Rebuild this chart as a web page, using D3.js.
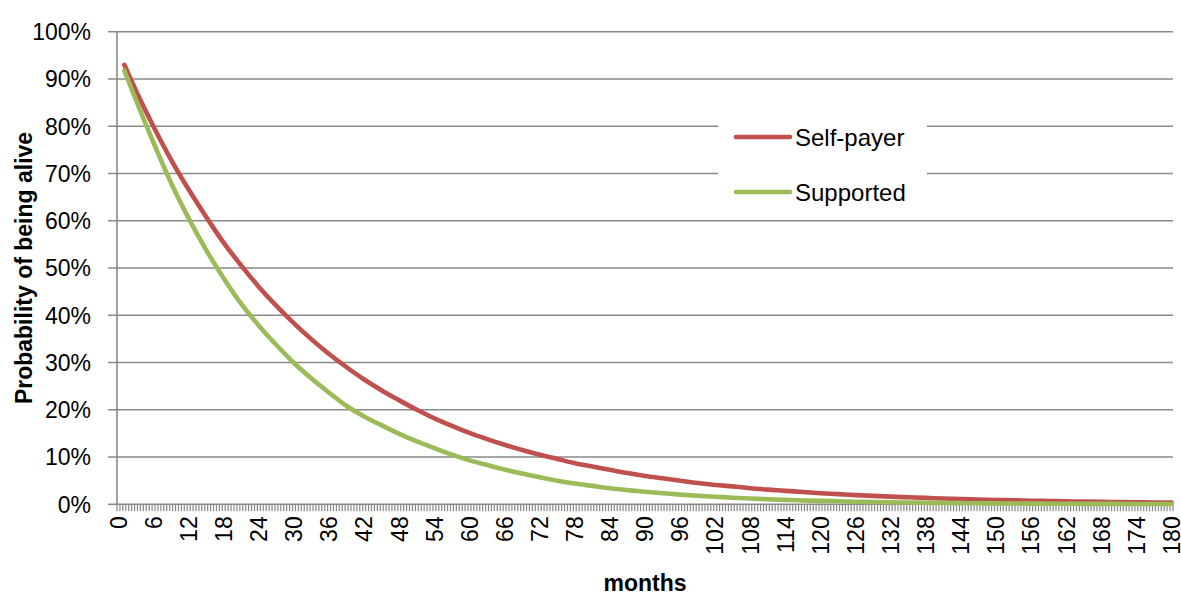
<!DOCTYPE html>
<html><head><meta charset="utf-8">
<script src="https://cdn.jsdelivr.net/npm/d3@7"></script>
<style>
html,body{margin:0;padding:0;background:#fff;}
svg text{font-family:"Liberation Sans Narrow","Arial Narrow","Liberation Sans",Arial,sans-serif;fill:#000;}
</style>
</head><body>
<svg id="chart" width="1181" height="597"></svg>
<script>
// Data
const months = [1,3,6,9,12,15,18,21,24,27,30,33,36,39,42,45,48,51,54,57,60,63,66,69,72,75,78,81,84,87,90,93,96,99,102,105,108,111,114,117,120,123,126,129,132,135,138,141,144,147,150,153,156,159,162,165,168,171,174,177,180];
const selfPayer = [93.0,87.5,79.9,72.9,66.6,60.8,55.3,50.5,46.0,42.0,38.3,34.9,31.8,29.0,26.4,24.1,22.0,20.0,18.2,16.6,15.1,13.8,12.6,11.5,10.5,9.6,8.7,8.0,7.3,6.6,6.0,5.5,5.0,4.5,4.1,3.8,3.4,3.1,2.85,2.6,2.35,2.15,1.95,1.78,1.62,1.48,1.35,1.22,1.11,1.01,0.92,0.84,0.76,0.69,0.63,0.57,0.52,0.47,0.43,0.39,0.35];
const supported = [91.8,85.5,76.5,68.0,60.5,53.8,47.8,42.4,37.8,33.7,29.9,26.6,23.6,20.8,18.6,16.7,14.9,13.3,11.9,10.5,9.3,8.3,7.35,6.5,5.7,5.0,4.4,3.9,3.4,3.0,2.65,2.35,2.05,1.8,1.6,1.4,1.22,1.07,0.94,0.82,0.72,0.63,0.55,0.48,0.42,0.37,0.32,0.28,0.25,0.22,0.19,0.17,0.15,0.13,0.11,0.10,0.09,0.08,0.07,0.06,0.05];
const categories = d3.range(0, 180.5, 0.5);          // half-month categories
const xTickLabels = d3.range(0, 181, 6);              // 0,6,...,180
const yTicks = [0,10,20,30,40,50,60,70,80,90,100];
const seriesNames = ["Self-payer","Supported"];
const seriesColors = ["#c0504d","#9bbb59"];

const svg = d3.select("#chart");
const L = 117, R = 1173, T = 31.7, B = 504.3;

const x = d3.scaleBand().domain(categories).range([L, R]).padding(0);
const y = d3.scaleLinear().domain([0, 100]).range([B, T]);
const cx = m => x(m) + x.bandwidth() / 2;

// gridlines
svg.append("g").selectAll("line").data(yTicks.filter(d => d > 0)).join("line")
  .attr("x1", L - 9).attr("x2", R)
  .attr("y1", d => y(d)).attr("y2", d => y(d))
  .attr("stroke", "#898989").attr("stroke-width", 1.6);
svg.append("line").attr("x1", L - 9).attr("x2", L).attr("y1", y(0)).attr("y2", y(0))
  .attr("stroke", "#898989").attr("stroke-width", 1.6);

// y tick labels
svg.append("g").selectAll("text").data(yTicks).join("text")
  .attr("x", 91).attr("y", d => y(d)).attr("dy", "0.36em")
  .attr("text-anchor", "end").style("font-size", "23px")
  .text(d => d + "%");

// x ticks (category boundaries)
const boundaries = categories.map(c => x(c)).concat([R]);
svg.append("g").selectAll("line").data(boundaries).join("line")
  .attr("x1", d => d).attr("x2", d => d).attr("y1", B).attr("y2", B + 7)
  .attr("stroke", "#898989").attr("stroke-width", 1.2);

// axes lines
svg.append("line").attr("x1", L).attr("x2", L).attr("y1", T).attr("y2", B)
  .attr("stroke", "#898989").attr("stroke-width", 1.6);
svg.append("line").attr("x1", L).attr("x2", R).attr("y1", B).attr("y2", B)
  .attr("stroke", "#898989").attr("stroke-width", 1.6);

// x tick labels, rotated
svg.append("g").selectAll("text").data(xTickLabels).join("text")
  .attr("transform", d => `translate(${cx(d)},${B + 12}) rotate(-90)`)
  .attr("text-anchor", "end").attr("dy", "0.36em").style("font-size", "23px")
  .text(d => d);

// lines
const line = d3.line().x(d => cx(d[0])).y(d => y(d[1])).curve(d3.curveMonotoneX);
[selfPayer, supported].forEach((vals, i) => {
  svg.append("path").datum(months.map((m, j) => [m, vals[j]]))
    .attr("d", line).attr("fill", "none")
    .attr("stroke", seriesColors[i]).attr("stroke-width", 4.6)
    .attr("stroke-linejoin", "round").attr("stroke-linecap", "round");
});

// legend
const lg = svg.append("g");
lg.append("rect").attr("x", 718).attr("y", 112).attr("width", 209).attr("height", 106).attr("fill", "#fff");
seriesNames.forEach((n, i) => {
  const yy = 137 + i * 55;
  lg.append("line").attr("x1", 736).attr("x2", 790).attr("y1", yy).attr("y2", yy)
    .attr("stroke", seriesColors[i]).attr("stroke-width", 4.6).attr("stroke-linecap", "round");
  lg.append("text").attr("x", 795).attr("y", yy).attr("dy", "0.36em")
    .style("font-size", "24px").text(n);
});

// axis titles
svg.append("text").attr("x", (L + R) / 2).attr("y", 591).attr("text-anchor", "middle")
  .style("font-size", "23px").style("font-weight", "bold").text("months");
svg.append("text").attr("transform", `translate(32,${(T + B) / 2}) rotate(-90)`)
  .attr("text-anchor", "middle").style("font-size", "23px").style("font-weight", "bold")
  .text("Probability of being alive");
</script>
</body></html>
